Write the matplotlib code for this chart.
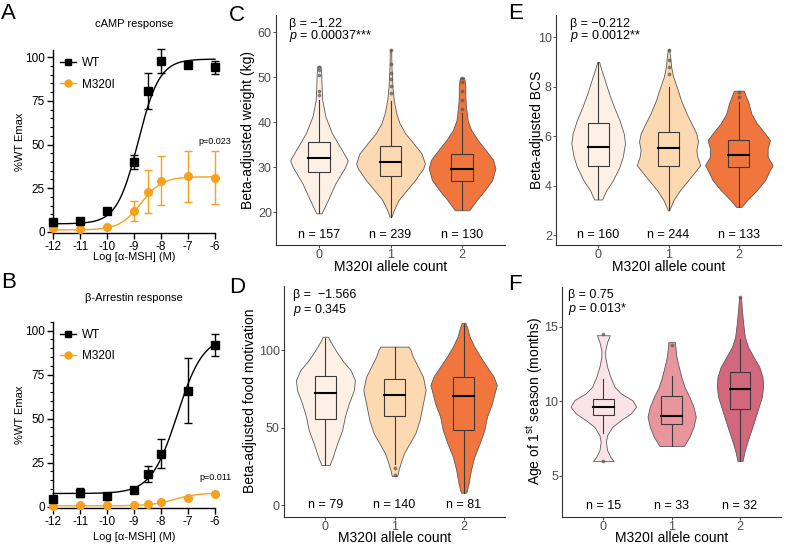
import numpy as np
import matplotlib
matplotlib.use('Agg')
import matplotlib.pyplot as plt
from matplotlib.lines import Line2D
from matplotlib.ticker import MultipleLocator

plt.rcParams['font.family'] = ['Liberation Sans', 'DejaVu Sans']
plt.rcParams['mathtext.fontset'] = 'custom'
plt.rcParams['mathtext.rm'] = 'Liberation Sans'
plt.rcParams['mathtext.it'] = 'Liberation Sans:italic'

# ---------------- dose-response data (panels A, B) ----------------
log_conc = [-12, -11, -10, -9, -8.5, -8, -7, -6]

camp_wt = [5.7, 6.3, 11.6, 39.8, 80.6, 98.0, 95.4, 94.3]
camp_wt_err = [0.8, 0.8, 1.7, 4.0, 10.2, 7.0, 1.5, 3.8]
camp_m320i = [1.9, 1.5, 2.8, 11.8, 22.8, 29.2, 31.7, 31.0]
camp_m320i_err = [0.5, 0.5, 0.7, 5.8, 12.3, 14.1, 14.5, 15.0]
# 4PL fit parameters: bottom, top, logEC50, hill
camp_wt_fit = [4.5, 99.0, -8.85, 1.1]
camp_m320i_fit = [1.0, 31.5, -8.75, 1.1]
camp_p = "p=0.023"

arr_wt = [4.2, 8.0, 6.3, 9.5, 18.6, 30.0, 66.0, 92.0]
arr_wt_err = [0.5, 2.6, 1.0, 0.5, 4.3, 8.2, 18.6, 6.3]
arr_m320i = [0.6, 0.8, 0.8, 1.0, 1.5, 2.7, 4.9, 7.0]
arr_m320i_err = [0, 0, 0, 0, 0, 0, 0, 0]
arr_wt_fit = [7.5, 97.0, -7.4, 0.9]
arr_m320i_fit = [0.5, 7.8, -7.5, 1.0]
arr_p = "p=0.011"

# ---------------- violin data (panels C-F) ----------------
allele_counts = ["0", "1", "2"]

weight_levels = [
    [19.7, 22.3, 26.3, 30.0, 31.5, 33.8, 37.5, 41.2, 44.9, 47.9, 50.8, 52.4],
    [19.0, 20.4, 22.7, 24.9, 27.1, 29.7, 30.8, 33.0, 35.3, 37.5, 39.7, 41.9, 44.9, 47.9, 52.3, 56.1],
    [20.4, 22.7, 24.9, 27.1, 29.7, 31.6, 33.8, 36.0, 38.2, 40.4, 43.4, 45.6, 47.9, 49.3, 49.9]]
weight_density = [
    [8, 25, 50, 80, 88, 70, 40, 20, 10, 8, 7, 5],
    [3, 10, 25, 50, 75, 100, 105, 95, 70, 45, 28, 18, 10, 6, 3, 2],
    [22, 45, 70, 92, 102, 95, 72, 48, 28, 17, 12, 10, 10, 8, 6]]
weight_box = [[19.7, 29.0, 32.0, 35.6, 44.9], [19.0, 28.1, 31.1, 34.7, 44.6], [20.4, 26.9, 29.6, 33.0, 42.0]]
weight_outliers = [[46.0, 47.0, 50.5, 51.5, 52.3], [46.5, 48.0, 49.5, 51.0, 53.0, 56.0], [43.0, 45.0, 47.0, 49.0, 49.8]]
weight_n = [157, 239, 130]
weight_stats = ["β = −1.22", r"$p$ = 0.00037***"]

bcs_levels = [
    [3.44, 3.82, 4.22, 4.76, 5.17, 5.71, 6.11, 6.65, 7.19, 7.73, 8.27, 8.68, 9.0],
    [3.0, 3.41, 3.82, 4.22, 4.63, 4.83, 5.17, 5.44, 5.78, 6.11, 6.52, 6.92, 7.46, 8.0, 8.41, 8.81, 9.22, 9.51],
    [3.14, 3.41, 3.82, 4.22, 4.63, 4.83, 5.17, 5.5, 5.84, 6.11, 6.52, 6.92, 7.33, 7.6, 7.84]]
bcs_density = [
    [12, 25, 45, 65, 75, 82, 78, 65, 48, 33, 20, 10, 3],
    [2, 15, 35, 60, 85, 97, 88, 85, 90, 85, 70, 55, 38, 25, 14, 8, 5, 2],
    [8, 25, 55, 80, 95, 103, 88, 88, 95, 80, 55, 38, 30, 22, 15]]
bcs_box = [[3.45, 4.78, 5.58, 6.52, 9.0], [3.0, 4.78, 5.52, 6.15, 8.0], [3.14, 4.77, 5.22, 5.86, 7.4]]
bcs_outliers = [[], [8.5, 8.8, 9.1, 9.5], [7.6, 7.8]]
bcs_n = [160, 244, 133]
bcs_stats = ["β = −0.212", r"$p$ = 0.0012**"]

food_levels = [
    [25.8, 31.2, 39.8, 48.4, 57.0, 65.6, 74.2, 80.6, 87.1, 93.5, 100, 105.4, 108.6],
    [18.7, 22.6, 26.9, 33.3, 39.8, 46.2, 54.8, 65.6, 74.2, 82.8, 89.2, 95.7, 100, 102.2],
    [8, 14, 22.6, 31.2, 39.8, 48.4, 57, 65.6, 74.2, 77.4, 82.8, 89.2, 95.7, 102.2, 108.6, 115, 117.6]]
food_density = [
    [12, 22, 35, 50, 58, 70, 85, 88, 75, 50, 30, 15, 8],
    [8, 12, 18, 28, 45, 62, 75, 85, 93, 85, 70, 55, 48, 42],
    [8, 15, 22, 32, 48, 62, 70, 85, 95, 99, 90, 70, 50, 32, 18, 10, 5]]
food_box = [[26, 55.5, 72.5, 83.2, 108], [26.5, 57.6, 71, 81.3, 102], [8, 48.6, 70.3, 82.6, 117]]
food_outliers = [[], [24.0, 19.5], []]
food_n = [79, 140, 81]
food_stats = ["β =  −1.566", r"$p$ = 0.345"]

age_levels = [
    [5.98, 6.27, 6.72, 7.28, 7.73, 8.29, 8.74, 9.18, 9.63, 10.08, 10.53, 10.97, 11.64, 12.32, 12.99, 13.43, 13.99, 14.44],
    [7.0, 7.6, 8.29, 8.96, 9.63, 10.3, 10.97, 11.64, 12.32, 12.99, 13.55, 14.0],
    [6.0, 6.72, 7.62, 8.51, 9.41, 10.3, 10.97, 11.64, 12.32, 12.99, 13.66, 14.33, 15.22, 16.12, 17.0]]
age_density = [
    [32, 22, 12, 8, 12, 28, 55, 85, 102, 90, 55, 35, 22, 12, 6, 6, 12, 20],
    [38, 55, 68, 75, 68, 55, 40, 30, 22, 15, 12, 10],
    [8, 15, 28, 42, 55, 68, 72, 70, 60, 42, 25, 15, 10, 6, 3]]
age_box = [[7.84, 9.09, 9.6, 10.15, 11.5], [7.0, 8.47, 9.0, 10.37, 11.7], [6.0, 9.47, 10.86, 12.0, 14.2]]
age_outliers = [[6.0, 14.5], [13.8], [17.0]]
age_n = [15, 33, 32]
age_stats = ["β = 0.75", r"$p$ = 0.013*"]

orange_pal = ["#FDF1E5", "#FDD9B2", "#F0763E"]
pink_pal = ["#FBE4E9", "#E9959E", "#D3677D"]
m320_color = "#F7A11E"

W, H = 787, 548
fig = plt.figure(figsize=(W / 100, H / 100), dpi=100)


def add_ax(left, top, right, bottom):
    return fig.add_axes([left / W, 1 - bottom / H, (right - left) / W, (bottom - top) / H])


def ftext(x, y, s, **kw):
    fig.text(x / W, 1 - y / H, s, **kw)


def fourpl(x, p):
    b, t, ec, h = p
    return b + (t - b) / (1 + 10 ** ((ec - x) * h))


def dose_panel(ax, wt, wt_err, mt, mt_err, wt_fit, mt_fit, ylim, ptxt, py):
    xs = np.linspace(-12, -6, 300)
    ax.plot(xs, fourpl(xs, wt_fit), color='black', lw=1.0, clip_on=False)
    ax.plot(xs, fourpl(xs, mt_fit), color=m320_color, lw=1.0, clip_on=False)
    ax.errorbar(log_conc, mt, yerr=mt_err, fmt='o', color=m320_color, ms=5.5,
                capsize=3, elinewidth=1.0, capthick=1.0, clip_on=False, zorder=3)
    ax.errorbar(log_conc, wt, yerr=wt_err, fmt='s', color='black', ms=5.2,
                capsize=3, elinewidth=1.0, capthick=1.0, clip_on=False, zorder=4)
    ax.set_xlim(-12, -6)
    ax.set_ylim(*ylim)
    ax.set_xticks(range(-12, -5))
    ax.set_xticklabels([str(v) for v in range(-12, -5)])
    ax.set_yticks([0, 25, 50, 75, 100])
    ax.yaxis.set_minor_locator(MultipleLocator(5))
    for s in ['top', 'right']:
        ax.spines[s].set_visible(False)
    for s in ['left', 'bottom']:
        ax.spines[s].set_linewidth(1.0)
    ax.tick_params(which='major', length=4, width=1.0, labelsize=8.5, pad=2)
    ax.tick_params(which='minor', length=2, width=0.8)
    ax.text(-6, py, ptxt, ha='center', va='center', fontsize=6.5)
    handles = [Line2D([], [], color='black', marker='s', ms=5, lw=1.0),
               Line2D([], [], color=m320_color, marker='o', ms=5, lw=1.0)]
    ax.legend(handles, ['WT', 'M320I'], loc='upper left', bbox_to_anchor=(0.0, 1.0),
              frameon=False, fontsize=8.5, handlelength=1.3, handletextpad=0.5,
              labelspacing=0.8, borderaxespad=0.2)


def violin_panel(ax, levels, density, boxes, outliers, ns, stats, pal, ylim, yticks, ny, stat_xy):
    dmax = max(max(d) for d in density)
    for i in range(3):
        y = np.array(levels[i])
        w = np.array(density[i]) / dmax * 0.48
        ax.fill_betweenx(y, i - w, i + w, facecolor=pal[i], edgecolor='#5A5A5A', lw=0.6, zorder=1)
        lo, q1, med, q3, hi = boxes[i]
        bw = 0.15
        ax.plot([i, i], [lo, q1], color='#3A3A3A', lw=0.8, zorder=2)
        ax.plot([i, i], [q3, hi], color='#3A3A3A', lw=0.8, zorder=2)
        ax.fill([i - bw, i + bw, i + bw, i - bw], [q1, q1, q3, q3], facecolor=pal[i],
                edgecolor='#3A3A3A', lw=0.8, zorder=3)
        ax.plot([i - bw, i + bw], [med, med], color='black', lw=1.5, zorder=4)
        if outliers[i]:
            ax.plot([i] * len(outliers[i]), outliers[i], 'o', ms=1.8, color='#555555',
                    alpha=0.6, zorder=4)
        ax.text(i, ny, f"n = {ns[i]}", ha='center', va='center', fontsize=9)
    ax.set_xlim(-0.6, 2.6)
    ax.set_ylim(*ylim)
    ax.set_xticks(range(3))
    ax.set_xticklabels(allele_counts)
    ax.set_yticks(yticks)
    ax.set_yticklabels([str(v) for v in yticks])
    for s in ['top', 'right']:
        ax.spines[s].set_visible(False)
    for s in ['left', 'bottom']:
        ax.spines[s].set_linewidth(0.8)
        ax.spines[s].set_color('#333333')
    ax.tick_params(length=2, width=0.6, color='#333333', labelsize=9, labelcolor='#4D4D4D', pad=1)
    ax.text(stat_xy[0], stat_xy[1], stats[0], transform=ax.transAxes, ha='left', va='center', fontsize=9)
    ax.text(stat_xy[0], stat_xy[2], stats[1], transform=ax.transAxes, ha='left', va='center', fontsize=9)


# Panel A
axA = add_ax(53.3, 50, 215, 233)
dose_panel(axA, camp_wt, camp_wt_err, camp_m320i, camp_m320i_err, camp_wt_fit, camp_m320i_fit,
           (-0.75, 104.2), camp_p, 51.6)
# Panel B
axB = add_ax(53.3, 321.7, 215, 508)
dose_panel(axB, arr_wt, arr_wt_err, arr_m320i, arr_m320i_err, arr_wt_fit, arr_m320i_fit,
           (-0.74, 105.1), arr_p, 16.7)

ftext(134, 24, "cAMP response", ha='center', va='center', fontsize=8)
ftext(134, 298, "β-Arrestin response", ha='center', va='center', fontsize=8)
ftext(20, 142, "%WT Emax", ha='center', va='center', rotation=90, fontsize=8)
ftext(20, 415, "%WT Emax", ha='center', va='center', rotation=90, fontsize=8)
ftext(134, 257, "Log [α-MSH] (M)", ha='center', va='center', fontsize=8)
ftext(134, 537, "Log [α-MSH] (M)", ha='center', va='center', fontsize=8)

# Panel C
axC = add_ax(276, 15, 505, 245)
violin_panel(axC, weight_levels, weight_density, weight_box, weight_outliers, weight_n, weight_stats,
             orange_pal, (12.67, 63.8), [20, 30, 40, 50, 60], 15, (0.058, 0.963, 0.907))
# Panel E
axE = add_ax(556, 15, 781, 245)
violin_panel(axE, bcs_levels, bcs_density, bcs_box, bcs_outliers, bcs_n, bcs_stats,
             orange_pal, (1.6, 10.9), [2, 4, 6, 8, 10], 2.0, (0.062, 0.963, 0.907))
# Panel D
axD = add_ax(284, 286, 505, 516.7)
violin_panel(axD, food_levels, food_density, food_box, food_outliers, food_n, food_stats,
             orange_pal, (-7.5, 141.3), [0, 50, 100], 0, (0.042, 0.963, 0.896))
# Panel F
axF = add_ax(562.3, 286.7, 781, 516.7)
violin_panel(axF, age_levels, age_density, age_box, age_outliers, age_n, age_stats,
             pink_pal, (2.25, 17.7), [5, 10, 15], 3.0, (0.027, 0.966, 0.904))

ftext(248, 130, "Beta-adjusted weight (kg)", ha='center', va='center', rotation=90, fontsize=10)
ftext(537, 130, "Beta-adjusted BCS", ha='center', va='center', rotation=90, fontsize=10)
ftext(250, 401, "Beta-adjusted food motivation", ha='center', va='center', rotation=90, fontsize=10)
ftext(535, 401, r"Age of 1$^{\mathrm{st}}$ season (months)", ha='center', va='center', rotation=90, fontsize=10)
for xc, yc in [(390.5, 267.5), (668.5, 267.5), (394.5, 538.5), (671.7, 538.5)]:
    ftext(xc, yc, "M320I allele count", ha='center', va='center', fontsize=10)

for lab, x, y in [("A", 1, 3), ("B", 1, 272), ("C", 229, 5), ("D", 229, 277), ("E", 508, 3), ("F", 508, 274)]:
    ftext(x, y, lab, ha='left', va='top', fontsize=16)

fig.savefig("out.png", dpi=100)
